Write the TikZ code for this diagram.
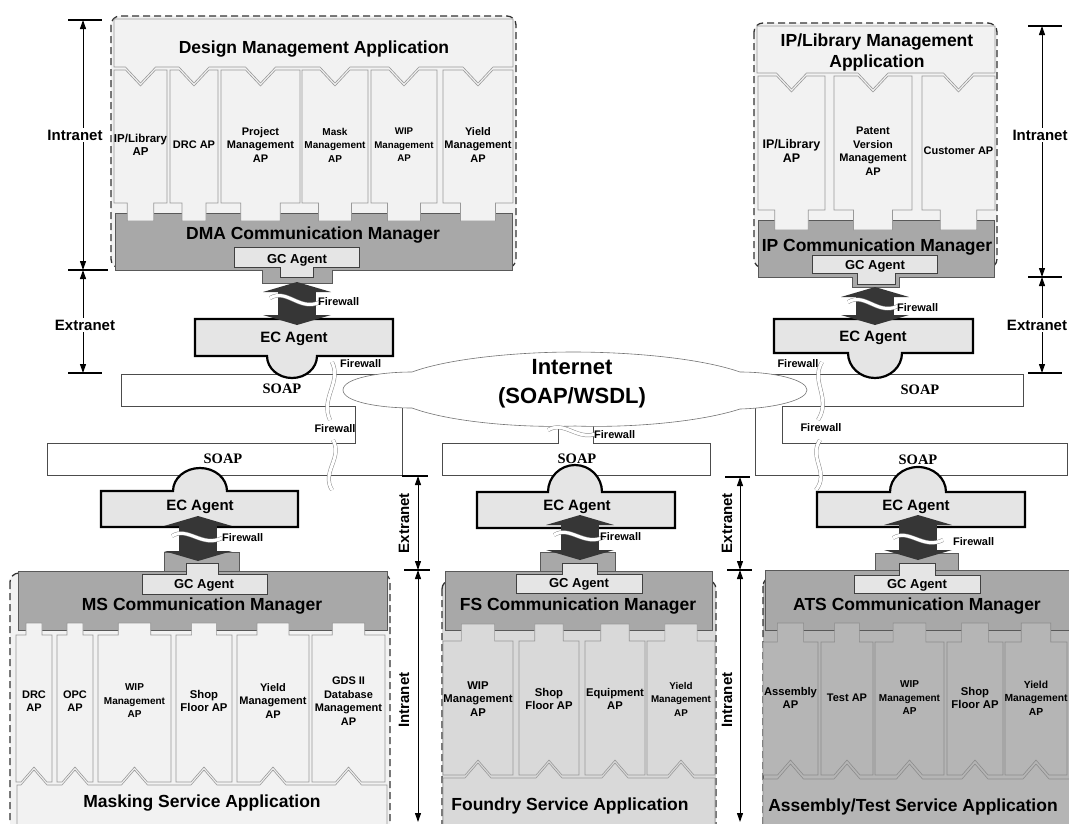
\documentclass[tikz,border=0pt]{standalone}
\usepackage{fontspec}
\setmainfont{Liberation Sans}
\newfontfamily\soapfont{Liberation Serif}
\usetikzlibrary{arrows.meta}
\definecolor{appfill}{gray}{0.95}
\definecolor{commfill}{gray}{0.66}
\definecolor{agentfill}{gray}{0.90}
\definecolor{fsfill}{gray}{0.85}
\definecolor{atsfill}{gray}{0.71}
\definecolor{arrowdark}{gray}{0.21}

\begin{document}
\begin{tikzpicture}[x=1pt, y=-1pt,
    appbox/.style={fill=appfill, draw=black!40, line width=0.6pt},
    commbox/.style={fill=commfill, draw=black!65, line width=0.8pt},
    gcbox/.style={fill=agentfill, draw=black!75, line width=0.8pt},
    ecbox/.style={fill=agentfill, draw=black, line width=2.2pt},
    dashbox/.style={draw=black!80, dash pattern=on 7pt off 4pt, line width=1.3pt, rounded corners=9pt},
    soapbar/.style={fill=white, draw=black!70, line width=0.8pt},
    cloud/.style={fill=white, draw=black!55, line width=0.6pt},
    dblarrow/.style={draw=arrowdark, line width=38pt,
        {Triangle[length=10pt, width=68pt, line width=0pt]}-{Triangle[length=10pt, width=68pt, line width=0pt]}},
    dimarrow/.style={line width=1pt, {Triangle[length=9pt, width=6pt]}-{Triangle[length=9pt, width=6pt]}},
    tick/.style={line width=1.2pt},
    fwall/.style={draw=black!45, double=white, double distance=3pt, line width=0.5pt},
    bigtxt/.style={font=\bfseries\fontsize{17.5}{21}\selectfont, inner sep=0pt, align=center},
    aptxt/.style={font=\bfseries\fontsize{#1}{13.5}\selectfont, inner sep=0pt, align=center},
    agenttxt/.style={font=\bfseries\fontsize{15}{18}\selectfont, inner sep=0pt},
    gctxt/.style={font=\bfseries\fontsize{13}{15}\selectfont, inner sep=0pt},
    fwtxt/.style={font=\bfseries\fontsize{11}{13}\selectfont, inner sep=0pt},
    soaptxt/.style={font=\soapfont\bfseries\fontsize{14.5}{17}\selectfont, inner sep=0pt},
    nettxt/.style={font=\bfseries\fontsize{22}{29}\selectfont, inner sep=0pt, align=center},
    dimtxt/.style={font=\bfseries\fontsize{15}{18}\selectfont, inner sep=1.5pt, fill=white},
    dimrot/.style={dimtxt, fill=none, rotate=90}]
\useasboundingbox (0,0) rectangle (1069,823);

% SOAP links and the Internet cloud
\draw[soapbar] (121,374) -- (420,374) -- (420,395) -- (402,395) -- (402,475) -- (47,475) -- (47,443) -- (355,443) -- (355,406) -- (121,406) -- cycle;
\draw[soapbar] (1023,374) -- (730,374) -- (730,400) -- (755,400) -- (755,475) -- (1067,475) -- (1067,443) -- (782,443) -- (782,406) -- (1023,406) -- cycle;
\draw[soapbar] (442,443) -- (558,443) -- (558,410) -- (593,410) -- (593,443) -- (710,443) -- (710,475) -- (442,475) -- cycle;
\draw[cloud] (343,390)
    .. controls (343,378) and (380,372) .. (412,372)
    .. controls (450,358) and (520,352) .. (573,352)
    .. controls (630,352) and (700,358) .. (740,372)
    .. controls (775,372) and (807,380) .. (807,390)
    .. controls (807,400) and (775,408) .. (740,409)
    .. controls (700,422) and (630,428) .. (575,426)
    .. controls (520,428) and (450,422) .. (412,408)
    .. controls (380,408) and (343,402) .. (343,390) -- cycle;
\node[nettxt] (net) at (572,384) {Internet\\(SOAP/WSDL)};
\node[soaptxt] (soapdma) at (282,389) {SOAP};
\node[soaptxt] (soapip) at (920,390) {SOAP};
\node[soaptxt] (soapms) at (223,459) {SOAP};
\node[soaptxt] (soapfs) at (577,459) {SOAP};
\node[soaptxt] (soapats) at (918,460) {SOAP};

% Design Management Application
\draw[dashbox, fill=appfill] (111,16) rectangle (516,268);
\draw[commbox] (115,213) rectangle (512,270);
\foreach \xa/\xb/\txt/\fs in {114/167/{IP/Library\\AP}/11.5, 170/218/{DRC AP}/11, 221/300/{Project\\Management\\AP}/11,
    302/368/{Mask\\Management\\AP}/10, 371/437/{WIP\\Management\\AP}/9.7, 443/513/{Yield\\Management\\AP}/11}{
  \pgfmathsetmacro\cx{(\xa+\xb)/2}
  \pgfmathsetmacro\tw{(\xb-\xa)/4}
  \draw[appbox] (\xa,70) -- (\cx-15,70) -- (\cx,86) -- (\cx+15,70) -- (\xb,70) -- (\xb,203) -- (\cx+\tw,203) -- (\cx+\tw,221)
      -- (\cx-\tw,221) -- (\cx-\tw,203) -- (\xa,203) -- cycle;
  \node[aptxt=\fs] (dmaap\xa) at (\cx,145) {\txt};
}
\draw[appbox] (114,19) -- (513,19) -- (513,67) \foreach \cx in {478,404,335,260.5,194,140.5} { -- (\cx+15,67) -- (\cx,83) -- (\cx-15,67) } -- (114,67) -- cycle;
\node[bigtxt] (dmatitle) at (314,49) {Design Management Application};
\node[bigtxt] (dmacomm) at (313,235) {DMA Communication Manager};
\draw[commbox] (262,270) -- (262,283) -- (332,283) -- (332,270);
\draw[gcbox] (234,247) -- (359,247) -- (359,267) -- (313,267) -- (313,277) -- (280,277) -- (280,267) -- (234,267) -- cycle;
\node[gctxt] (dmagc) at (297,260) {GC Agent};
\draw[ecbox] (195,319) -- (393,319) -- (393,356) -- (317,356) arc[start angle=0, end angle=-180, x radius=25pt, y radius=22pt] -- (195,356) -- cycle;
\node[agenttxt] (dmaec) at (294,339) {EC Agent};
\coordinate (dmaup) at (297,282);
\coordinate (dmadown) at (297,325);
\draw[dblarrow] (dmaup) -- (dmadown);
\draw[fwall] (270,298) .. controls (287,288) and (300,312) .. (320,302);
\node[fwtxt, anchor=west] (dmafw) at (318,302) {Firewall};

% IP/Library Management Application
\draw[dashbox, fill=appfill] (754,23) rectangle (997,268);
\draw[commbox] (758,220) rectangle (994,277);
\foreach \xa/\xb/\txt/\fs in {758/825/{IP/Library\\AP}/12.5, 834/912/{Patent\\Version\\Management\\AP}/11, 922/995/{Customer AP}/11}{
  \pgfmathsetmacro\cx{(\xa+\xb)/2}
  \pgfmathsetmacro\tw{(\xb-\xa)/4}
  \draw[appbox] (\xa,76) -- (\cx-15,76) -- (\cx,92) -- (\cx+15,76) -- (\xb,76) -- (\xb,210) -- (\cx+\tw,210) -- (\cx+\tw,230)
      -- (\cx-\tw,230) -- (\cx-\tw,210) -- (\xa,210) -- cycle;
  \node[aptxt=\fs] (ipap\xa) at (\cx,151) {\txt};
}
\draw[appbox] (757,26) -- (995,26) -- (995,73) \foreach \cx in {958.5,873,791.5} { -- (\cx+15,73) -- (\cx,89) -- (\cx-15,73) } -- (757,73) -- cycle;
\node[bigtxt] (iptitle) at (877,52) {IP/Library Management\\Application};
\node[bigtxt] (ipcomm) at (877,247) {IP Communication Manager};
\draw[commbox] (852,277) -- (852,287) -- (899,287) -- (899,277);
\draw[gcbox] (812,255) -- (937,255) -- (937,273) -- (895,273) -- (895,284) -- (857,284) -- (857,273) -- (812,273) -- cycle;
\node[gctxt] (ipgc) at (875,266) {GC Agent};
\draw[ecbox] (774,319) -- (973,319) -- (973,353) -- (902,353) arc[start angle=0, end angle=-180, x radius=27pt, y radius=25pt] -- (774,353) -- cycle;
\node[agenttxt] (ipec) at (873,338) {EC Agent};
\coordinate (ipup) at (875,287);
\coordinate (ipdown) at (875,325);
\draw[dblarrow] (ipup) -- (ipdown);
\draw[fwall] (848,302) .. controls (865,292) and (878,316) .. (898,306);
\node[fwtxt, anchor=west] (ipfw) at (897,308) {Firewall};

% Masking Service Application
\draw[dashbox, fill=appfill] (10,573) rectangle (390,840);
\draw[commbox] (18,571) rectangle (387,630);
\foreach \xa/\xb/\txt/\fs in {16/52/{DRC\\AP}/11, 57/93/{OPC\\AP}/11, 98/171/{WIP\\Management\\AP}/10,
    176/232/{Shop\\Floor AP}/11.3, 237/309/{Yield\\Management\\AP}/11, 312/385/{GDS II\\Database\\Management\\AP}/11}{
  \pgfmathsetmacro\cx{(\xa+\xb)/2}
  \pgfmathsetmacro\tw{(\xb-\xa)/4.5}
  \draw[appbox] (\xa,635) -- (\cx-\tw,635) -- (\cx-\tw,623) -- (\cx+\tw,623) -- (\cx+\tw,635) -- (\xb,635) -- (\xb,782)
      -- (\cx+13,782) -- (\cx,767) -- (\cx-13,782) -- (\xa,782) -- cycle;
  \node[aptxt=\fs] (msap\xa) at (\cx,701) {\txt};
}
\draw[appbox] (17,830) -- (17,785) \foreach \cx in {34,75,134.5,204,273,348.5} { -- (\cx-13,785) -- (\cx,770) -- (\cx+13,785) } -- (387,785) -- (387,830);
\node[bigtxt] (msapp) at (202,803) {Masking Service Application};
\node[bigtxt] (mscomm) at (202,606) {MS Communication Manager};
\draw[commbox] (164,571) -- (164,552) -- (239,552) -- (239,571);
\draw[gcbox] (142,574) -- (186,574) -- (186,563) -- (218,563) -- (218,574) -- (267,574) -- (267,594) -- (142,594) -- cycle;
\node[gctxt] (msgc) at (204,585) {GC Agent};
\draw[ecbox] (101,491) -- (173,491) arc[start angle=180, end angle=0, x radius=27pt, y radius=23pt] -- (298,491) -- (298,527) -- (101,527) -- cycle;
\node[agenttxt] (msec) at (200,507) {EC Agent};
\coordinate (msup) at (198,516);
\coordinate (msdown) at (198,561);
\draw[dblarrow] (msup) -- (msdown);
\draw[fwall] (172,536) .. controls (188,526) and (202,548) .. (222,538);
\node[fwtxt, anchor=west] (msfw) at (222,538) {Firewall};

% Foundry Service Application
\draw[dashbox, fill=fsfill] (442,580) rectangle (716,840);
\draw[commbox] (445,571) rectangle (712,630);
\foreach \xa/\xb/\txt/\fs in {443/513/{WIP\\Management\\AP}/11.3, 519/579/{Shop\\Floor AP}/11.3, 585/645/{Equipment\\AP}/11.2, 647/715/{Yield\\Management\\AP}/9.8}{
  \pgfmathsetmacro\cx{(\xa+\xb)/2}
  \pgfmathsetmacro\tw{(\xb-\xa)/4.2}
  \draw[appbox, fill=fsfill] (\xa,641) -- (\cx-\tw,641) -- (\cx-\tw,624) -- (\cx+\tw,624) -- (\cx+\tw,641) -- (\xb,641) -- (\xb,775)
      -- (\cx+13,775) -- (\cx,760) -- (\cx-13,775) -- (\xa,775) -- cycle;
  \node[aptxt=\fs] (fsap\xa) at (\cx,699) {\txt};
}
\draw[appbox, fill=fsfill] (443,830) -- (443,778) \foreach \cx in {478,549,615,681} { -- (\cx-13,778) -- (\cx,763) -- (\cx+13,778) } -- (715,778) -- (715,830);
\node[bigtxt] (fsapp) at (570,806) {Foundry Service Application};
\node[bigtxt] (fscomm) at (578,606) {FS Communication Manager};
\draw[commbox] (540,571) -- (540,552) -- (615,552) -- (615,571);
\draw[gcbox] (516,574) -- (562,574) -- (562,563) -- (597,563) -- (597,574) -- (642,574) -- (642,593) -- (516,593) -- cycle;
\node[gctxt] (fsgc) at (579,584) {GC Agent};
\draw[ecbox] (477,492) -- (548,492) arc[start angle=180, end angle=0, x radius=27pt, y radius=27pt] -- (675,492) -- (675,528) -- (477,528) -- cycle;
\node[agenttxt] (fsec) at (577,507) {EC Agent};
\coordinate (fsup) at (580,515);
\coordinate (fsdown) at (580,560);
\draw[dblarrow] (fsup) -- (fsdown);
\draw[fwall] (554,535) .. controls (570,525) and (584,547) .. (604,537);
\node[fwtxt, anchor=west] (fsfw) at (600,537) {Firewall};

% Assembly/Test Service Application
\draw[dashbox, fill=atsfill] (763,577) rectangle (1090,840);
\draw[commbox] (765,570) rectangle (1080,630);
\foreach \xa/\xb/\txt/\fs in {763/818/{Assembly\\AP}/11.2, 821/873/{Test AP}/11, 875/944/{WIP\\Management\\AP}/10,
    947/1003/{Shop\\Floor AP}/11.3, 1005/1067/{Yield\\Management\\AP}/10.3}{
  \pgfmathsetmacro\cx{(\xa+\xb)/2}
  \pgfmathsetmacro\tw{(\xb-\xa)/4.2}
  \draw[appbox, fill=atsfill, draw=black!45] (\xa,642) -- (\cx-\tw,642) -- (\cx-\tw,623) -- (\cx+\tw,623) -- (\cx+\tw,642) -- (\xb,642) -- (\xb,775)
      -- (\cx+13,775) -- (\cx,760) -- (\cx-13,775) -- (\xa,775) -- cycle;
  \node[aptxt=\fs] (atsap\xa) at (\cx,698) {\txt};
}
\draw[appbox, fill=atsfill, draw=black!45] (763,830) -- (763,779) \foreach \cx in {790.5,847,909.5,975,1036} { -- (\cx-13,779) -- (\cx,764) -- (\cx+13,779) } -- (1080,779);
\node[bigtxt] (atsapp) at (913,807) {Assembly/Test Service Application};
\node[bigtxt] (atscomm) at (917,606) {ATS Communication Manager};
\draw[commbox] (875,570) -- (875,553) -- (958,553) -- (958,570);
\draw[gcbox] (854,575) -- (899,575) -- (899,563) -- (935,563) -- (935,575) -- (980,575) -- (980,593) -- (854,593) -- cycle;
\node[gctxt] (atsgc) at (917,585) {GC Agent};
\draw[ecbox] (817,492) -- (890,492) arc[start angle=180, end angle=0, x radius=28pt, y radius=25pt] -- (1025,492) -- (1025,527) -- (817,527) -- cycle;
\node[agenttxt] (atsec) at (916,507) {EC Agent};
\coordinate (atsup) at (918,515);
\coordinate (atsdown) at (918,560);
\draw[dblarrow] (atsup) -- (atsdown);
\draw[fwall] (893,538) .. controls (909,528) and (923,550) .. (943,540);
\node[fwtxt, anchor=west] (atsfw) at (953,542) {Firewall};

% firewalls on the SOAP links
\draw[fwall] (332,362) .. controls (342,382) and (320,398) .. (330,420);
\node[fwtxt, anchor=west] (fwdma) at (340,364) {Firewall};
\draw[fwall] (333,440) .. controls (343,458) and (321,472) .. (332,490);
\node[fwtxt] (fwms) at (335,429) {Firewall};
\draw[fwall] (822,362) .. controls (810,382) and (832,398) .. (818,420);
\node[fwtxt] (fwip) at (798,364) {Firewall};
\draw[fwall] (820,440) .. controls (808,458) and (830,472) .. (816,490);
\node[fwtxt] (fwats) at (821,428) {Firewall};
\draw[fwall] (548,430) .. controls (565,420) and (578,442) .. (598,433);
\node[fwtxt, anchor=west] (fwfs) at (594,435) {Firewall};

% Intranet / Extranet extents
\coordinate (ltA) at (83,20);
\coordinate (ltB) at (83,270);
\coordinate (ltC) at (83,373);
\draw[tick] (68,20) -- (102,20);
\draw[tick] (68,270) -- (108,270);
\draw[tick] (68,373) -- (102,373);
\draw[dimarrow] (ltA) -- (ltB);
\draw[dimarrow] (ltB) -- (ltC);
\node[dimtxt] (ltintra) at (75,135) {Intranet};
\node[dimtxt] (ltextra) at (85,325) {Extranet};

\coordinate (rtA) at (1042,26);
\coordinate (rtB) at (1042,277);
\coordinate (rtC) at (1042,373);
\draw[tick] (1028,26) -- (1062,26);
\draw[tick] (1028,277) -- (1062,277);
\draw[tick] (1028,373) -- (1062,373);
\draw[dimarrow] (rtA) -- (rtB);
\draw[dimarrow] (rtB) -- (rtC);
\node[dimtxt] (rtintra) at (1040,135) {Intranet};
\node[dimtxt] (rtextra) at (1037,325) {Extranet};

\coordinate (bmA) at (418,476);
\coordinate (bmB) at (418,570);
\coordinate (bmC) at (418,822);
\draw[tick] (402,476) -- (428,476);
\draw[tick] (404,570) -- (430,570);
\draw[dimarrow] (bmA) -- (bmB);
\draw[dimarrow] (bmB) -- (bmC);
\node[dimrot] (bmextra) at (404,523) {Extranet};
\node[dimrot] (bmintra) at (404,700) {Intranet};

\coordinate (brA) at (740,477);
\coordinate (brB) at (740,570);
\coordinate (brC) at (740,822);
\draw[tick] (725,477) -- (750,477);
\draw[tick] (727,570) -- (752,570);
\draw[dimarrow] (brA) -- (brB);
\draw[dimarrow] (brB) -- (brC);
\node[dimrot] (brextra) at (727,523) {Extranet};
\node[dimrot] (brintra) at (727,700) {Intranet};
\end{tikzpicture}
\end{document}
